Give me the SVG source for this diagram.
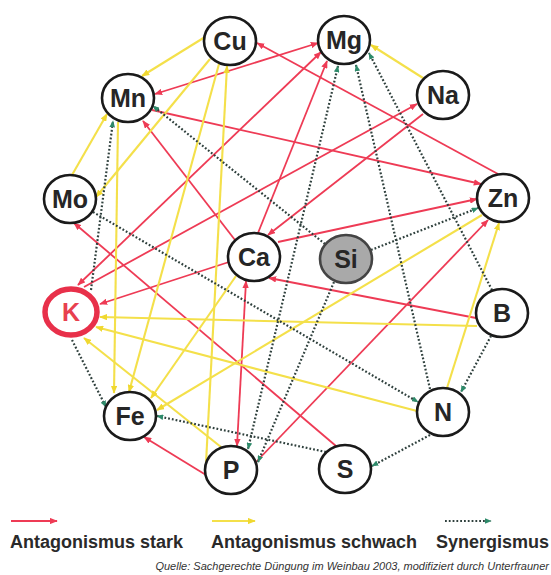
<svg xmlns="http://www.w3.org/2000/svg" width="551" height="575" viewBox="0 0 551 575">
<defs>
<style>
.r{stroke:#ee3b55;stroke-width:1.8;fill:none}
.y{stroke:#f4e04a;stroke-width:2.1;fill:none}
.g{stroke:#2f403d;stroke-width:2.2;stroke-dasharray:1.8 2;fill:none}
.n{fill:#fff;stroke:#1a1a1a;stroke-width:2.6}
.t{font-family:"Liberation Sans",Arial,sans-serif;font-weight:bold;font-size:25px;text-anchor:middle;fill:#262626}
.leg{font-family:"Liberation Sans",Arial,sans-serif;font-weight:bold;font-size:18px;fill:#2a2a2a}
.src{font-family:"Liberation Sans",Arial,sans-serif;font-style:italic;font-size:11px;fill:#333}
</style>
<marker id="mr" viewBox="0 0 10 8" refX="9" refY="4" markerWidth="8" markerHeight="6.4" markerUnits="userSpaceOnUse" orient="auto-start-reverse"><path d="M0,0 L10,4 L0,8 z" fill="#ee3b55"/></marker>
<marker id="my" viewBox="0 0 10 8" refX="9" refY="4" markerWidth="8" markerHeight="6.4" markerUnits="userSpaceOnUse" orient="auto-start-reverse"><path d="M0,0 L10,4 L0,8 z" fill="#f0d830"/></marker>
<marker id="mg" viewBox="0 0 10 8" refX="9" refY="4" markerWidth="7" markerHeight="5.6" markerUnits="userSpaceOnUse" orient="auto-start-reverse"><path d="M0,0 L10,4 L0,8 z" fill="#2e8a6a"/></marker>
</defs>
<rect width="551" height="575" fill="#fff"/>
<g id="connectors">
<g id="red">
<path class="r" d="M498,174 L257,43" marker-end="url(#mr)"/>
<path class="r" d="M155,94 L318,43" marker-start="url(#mr)" marker-end="url(#mr)"/>
<path class="r" d="M78,285 L321,52" marker-start="url(#mr)" marker-end="url(#mr)"/>
<path class="r" d="M84,287 L417,104" marker-end="url(#mr)"/>
<path class="r" d="M258,233 L327,61" marker-end="url(#mr)"/>
<path class="r" d="M423,114 L268,235" marker-end="url(#mr)"/>
<path class="r" d="M278,242 L477,199" marker-end="url(#mr)"/>
<path class="r" d="M152,110 L481,184" marker-end="url(#mr)"/>
<path class="r" d="M235,240 L143,121" marker-end="url(#mr)"/>
<path class="r" d="M229,262 L100,304" marker-end="url(#mr)"/>
<path class="r" d="M476,318 L269,278" marker-end="url(#mr)"/>
<path class="r" d="M246,281 L237,446" marker-start="url(#mr)" marker-end="url(#mr)"/>
<path class="r" d="M206,475 L144,437" marker-end="url(#mr)"/>
<path class="r" d="M256,462 L488,220" marker-end="url(#mr)"/>
<path class="r" d="M336,446 L74,223" marker-end="url(#mr)"/>
</g>
<g id="yellow">
<path class="y" d="M205,37 L142,76" marker-end="url(#my)"/>
<path class="y" d="M72,175 L107,114" marker-end="url(#my)"/>
<path class="y" d="M210,59 L96,197" marker-end="url(#my)"/>
<path class="y" d="M219,64 L129,392" marker-end="url(#my)"/>
<path class="y" d="M206,463 L227,66" marker-end="url(#my)"/>
<path class="y" d="M118,122 L114,393" marker-end="url(#my)"/>
<path class="y" d="M423,78 L371,45" marker-end="url(#my)"/>
<path class="y" d="M482,215 L157,410" marker-end="url(#my)"/>
<path class="y" d="M447,388 L499,223" marker-end="url(#my)"/>
<path class="y" d="M477,326 L100,317" marker-end="url(#my)"/>
<path class="y" d="M417,411 L96,327" marker-end="url(#my)"/>
<path class="y" d="M221,447 L84,338" marker-end="url(#my)"/>
<path class="y" d="M236,276 L151,398" marker-end="url(#my)"/>
</g>
<g id="green">
<path class="g" d="M325,244 L153,106" marker-end="url(#mg)"/>
<path class="g" d="M91,290 L113,121" marker-end="url(#mg)"/>
<path class="g" d="M93,212 L418,402" marker-end="url(#mg)"/>
<path class="g" d="M72,340 L106,407" marker-end="url(#mg)"/>
<path class="g" d="M326,452 L157,416" marker-end="url(#mg)"/>
<path class="g" d="M338,66 L248,449" marker-start="url(#mg)" marker-end="url(#mg)"/>
<path class="g" d="M334,282 L258,462" marker-end="url(#mg)"/>
<path class="g" d="M430,389 L356,65" marker-end="url(#mg)"/>
<path class="g" d="M492,290 L369,53" marker-end="url(#mg)"/>
<path class="g" d="M371,250 L478,208" marker-end="url(#mg)"/>
<path class="g" d="M430,435 L372,466" marker-end="url(#mg)"/>
<path class="g" d="M491,336 L461,392" marker-end="url(#mg)"/>
</g>
</g>
<g id="node-Cu"><ellipse class="n" cx="230" cy="41" rx="26" ry="24"/><text class="t" x="230" y="50">Cu</text></g>
<g id="node-Mg"><ellipse class="n" cx="344" cy="40" rx="26" ry="24"/><text class="t" x="344" y="49">Mg</text></g>
<g id="node-Mn"><ellipse class="n" cx="128" cy="98" rx="26" ry="24"/><text class="t" x="128" y="107">Mn</text></g>
<g id="node-Na"><ellipse class="n" cx="443" cy="95" rx="26" ry="24"/><text class="t" x="443" y="104">Na</text></g>
<g id="node-Mo"><ellipse class="n" cx="70" cy="199" rx="26" ry="24"/><text class="t" x="70" y="208">Mo</text></g>
<g id="node-Zn"><ellipse class="n" cx="503" cy="198" rx="26" ry="24"/><text class="t" x="503" y="207">Zn</text></g>
<g id="node-Ca"><ellipse class="n" cx="254" cy="257" rx="26" ry="24"/><text class="t" x="254" y="266">Ca</text></g>
<g id="node-Si"><ellipse cx="346" cy="259" rx="26" ry="24" fill="#a9a9a9" stroke="#444" stroke-width="2.6"/><text class="t" x="346" y="268">Si</text></g>
<g id="node-K"><ellipse cx="71" cy="312" rx="26" ry="23" fill="#fff" stroke="#e8304a" stroke-width="5.5"/><text class="t" x="71" y="321" style="fill:#e8404f">K</text></g>
<g id="node-B"><ellipse class="n" cx="502" cy="313" rx="26" ry="24"/><text class="t" x="502" y="322">B</text></g>
<g id="node-Fe"><ellipse class="n" cx="130" cy="416" rx="26" ry="24"/><text class="t" x="130" y="425">Fe</text></g>
<g id="node-N"><ellipse class="n" cx="443" cy="412" rx="26" ry="24"/><text class="t" x="443" y="421">N</text></g>
<g id="node-P"><ellipse class="n" cx="231" cy="470" rx="26" ry="24"/><text class="t" x="231" y="479">P</text></g>
<g id="node-S"><ellipse class="n" cx="345" cy="469" rx="26" ry="24"/><text class="t" x="345" y="478">S</text></g>
<g id="legend">
<path class="r" d="M11,521 L57,521" marker-end="url(#mr)"/>
<path class="y" d="M212,521 L255,521" marker-end="url(#my)"/>
<path class="g" d="M445,521 L491,521" marker-end="url(#mg)"/>
<text class="leg" x="10" y="548">Antagonismus stark</text>
<text class="leg" x="211" y="548">Antagonismus schwach</text>
<text class="leg" x="549" y="548" text-anchor="end">Synergismus</text>
<text class="src" x="549" y="570" text-anchor="end">Quelle: Sachgerechte Düngung im Weinbau 2003, modifiziert durch Unterfrauner</text>
</g>
</svg>
